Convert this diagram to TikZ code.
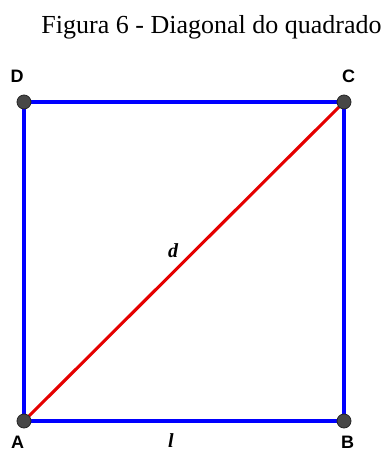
\documentclass[tikz,border=0pt]{standalone}
\usepackage{fontspec}
\setmainfont{Liberation Serif}
\newfontfamily\lblfont{Liberation Sans}
\begin{document}
\begin{tikzpicture}[x=0.75pt,y=-0.75pt,
  edge/.style={draw=blue, line width=2.3pt},
  diag/.style={draw=red!90!black, line width=2.3pt},
  vtx/.style={circle, fill=black!72, draw=black!85, line width=0.6pt, minimum size=10.5pt, inner sep=0pt},
  ptlabel/.style={font=\lblfont\bfseries\fontsize{13.5}{15}\selectfont, anchor=base, inner sep=0pt},
  seglabel/.style={font=\bfseries\itshape\fontsize{15}{17}\selectfont, anchor=base, inner sep=0pt}]
\useasboundingbox (0,0) rectangle (392,450);
\node[font=\fontsize{19.5}{22}\selectfont, anchor=base, inner sep=0pt] (title) at (211.5,33) {Figura 6 - Diagonal do quadrado};
\coordinate (A) at (24,421);
\coordinate (B) at (344,421);
\coordinate (C) at (344,102);
\coordinate (D) at (24,102);
\draw[edge] (A) -- (B) -- (C) -- (D) -- cycle;
\draw[diag] (A) -- (C);
\node[vtx] (vA) at (A) {};
\node[vtx] (vB) at (B) {};
\node[vtx] (vC) at (C) {};
\node[vtx] (vD) at (D) {};
\node[ptlabel] (lA) at (17.5,448) {A};
\node[ptlabel] (lB) at (347.5,448) {B};
\node[ptlabel] (lC) at (348.5,82) {C};
\node[ptlabel] (lD) at (17,82) {D};
\node[seglabel] (ll) at (171,447) {l};
\node[seglabel] (ld) at (173,257) {d};
\end{tikzpicture}
\end{document}
